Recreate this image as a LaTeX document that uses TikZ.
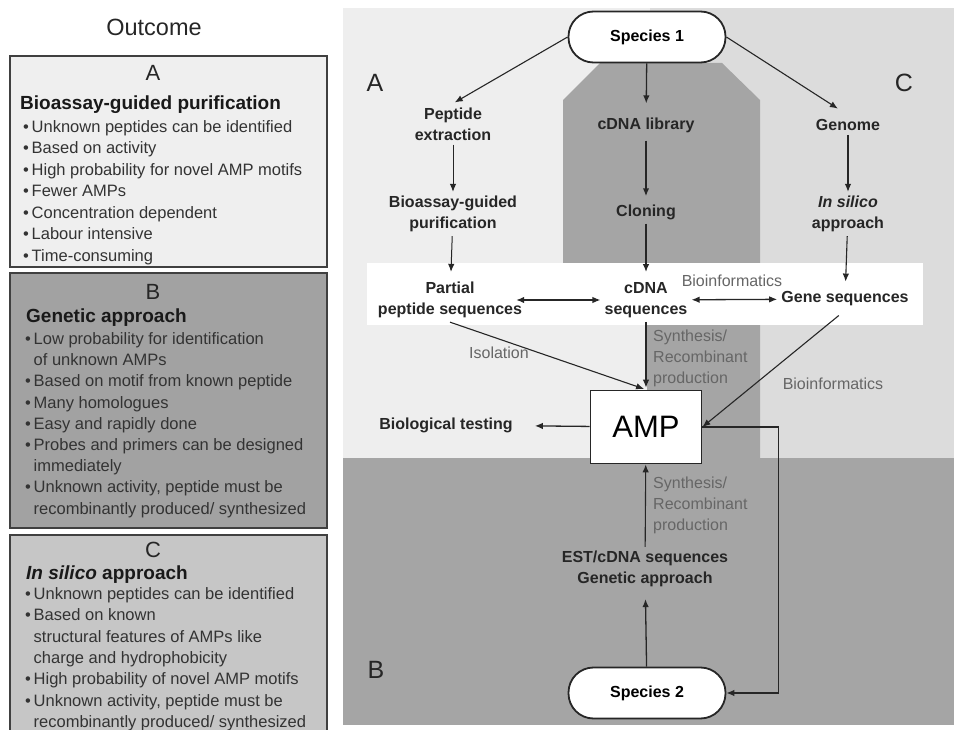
\documentclass[tikz,border=0pt]{standalone}
\usepackage{fontspec}
\setmainfont{Liberation Sans}
\usepackage{xcolor}
\usetikzlibrary{arrows.meta, positioning}

\definecolor{shadeA}{HTML}{EEEEEE}
\definecolor{shadeB}{HTML}{A5A5A5}
\definecolor{shadeC}{HTML}{DCDCDC}
\definecolor{boxA}{HTML}{EFEFEF}
\definecolor{boxB}{HTML}{A2A2A2}
\definecolor{boxC}{HTML}{C6C6C6}

\newcommand{\itm}{\textbullet\,}
\newcommand{\ind}{\hphantom{\textbullet\,}}

\tikzset{
    outbox/.style={draw=black!75, line width=1.2pt},
    letter/.style={font=\fontsize{22}{24}\selectfont, text=black!85, inner sep=0pt},
    heading/.style={font=\bfseries\fontsize{19}{22}\selectfont, text=black!90, anchor=base west, inner sep=0pt},
    item/.style={font=\fontsize{16.5}{19}\selectfont, text=black!80, anchor=base west, inner sep=0pt},
    lbl/.style={font=\bfseries\fontsize{16}{21}\selectfont, text=black!85, align=center, inner sep=4pt},
    note/.style={font=\fontsize{16}{21}\selectfont, text=black!60, align=left, inner sep=1pt},
    pill/.style={draw=black!85, fill=white, line width=1.8pt, rounded corners=25pt,
        minimum width=157pt, minimum height=51pt, font=\bfseries\fontsize{16}{19}\selectfont},
    flow/.style={->, line width=1.3pt, draw=black!85},
}

\begin{document}
\begin{tikzpicture}[x=1pt, y=-1pt, >={Latex[length=8pt,width=6.5pt]}]
    \useasboundingbox (0,0) rectangle (954,730);

    % backgrounds of the three routes
    \fill[shadeA] (343,8) rectangle (650,458);
    \fill[shadeC] (650,8) rectangle (954,458);
    \fill[shadeB] (563,300) -- (563,100) -- (600,63) -- (722,63) -- (760,100)
        -- (760,460) -- (647,460) -- (647,300) -- cycle;
    \fill[shadeB] (343,458) rectangle (954,725);
    \fill[white] (367,263) rectangle (923,325);

    % route letters
    \node[letter, font=\fontsize{25}{27}\selectfont] (rA) at (375,83) {A};
    \node[letter, font=\fontsize{25}{27}\selectfont] (rC) at (904,83) {C};
    \node[letter, font=\fontsize{25}{27}\selectfont] (rB) at (376,670) {B};

    % species and main steps
    \node[pill] (sp1) at (647,37) {Species 1};
    \node[lbl] (pep) at (453,124) {Peptide\\extraction};
    \node[lbl] (lib) at (646,125) {cDNA library};
    \node[lbl] (gen) at (848,125) {Genome};
    \node[lbl] (bio) at (453,214) {Bioassay-guided\\purification};
    \node[lbl] (clo) at (646,212) {Cloning};
    \node[lbl] (sil) at (848,214) {\textit{In silico}\\approach};
    \node[lbl] (par) at (450,300) {Partial\\peptide sequences};
    \node[lbl] (cds) at (646,300) {cDNA\\sequences};
    \node[lbl] (gsq) at (845,299) {Gene sequences};
    \node[draw=black!85, fill=white, line width=1.8pt, minimum width=111pt,
        minimum height=73pt, font=\fontsize{31}{33}\selectfont] (amp) at (646,427) {AMP};
    \node[lbl] (bt) at (446,425) {Biological testing};
    \node[lbl] (est) at (645,569) {EST/cDNA sequences\\Genetic approach};
    \node[pill] (sp2) at (647,693) {Species 2};

    % small labels on the connectors
    \node[note] (bi1) at (732,281) {Bioinformatics};
    \node[note] (iso) at (499,353) {Isolation};
    \node[note, anchor=west] (syn1) at (652,358) {Synthesis/\\Recombinant\\production};
    \node[note] (bi2) at (833,384) {Bioinformatics};
    \node[note, anchor=west] (syn2) at (652,505) {Synthesis/\\Recombinant\\production};

    % connectors
    \draw[flow, line width=1.1pt, shorten >=2pt] (sp1.west) -- (pep.north);
    \draw[flow, shorten >=10pt] (sp1) -- (lib);
    \draw[flow, line width=1.1pt, shorten >=12pt] (sp1.east) -- (gen.north);
    \draw[flow, line width=1pt] (pep) -- (bio);
    \draw[flow, line width=1.6pt, shorten <=4pt, shorten >=4pt] (lib) -- (clo);
    \draw[flow, line width=1.1pt] (gen) -- (sil);
    \draw[flow, line width=1pt, shorten >=6pt] (bio) -- (par);
    \draw[flow, line width=1.6pt, shorten >=6pt] (clo) -- (cds);
    \draw[flow, line width=1.1pt, shorten >=6pt] (sil) -- (gsq);
    \draw[flow, <->, shorten <=-10pt] (par) -- (cds);
    \draw[flow, <->] (cds) -- (gsq);
    \draw[flow, line width=1.1pt, shorten >=2pt] (par.south) -- (amp.north);
    \draw[flow, line width=1.1pt, shorten >=2pt] (cds) -- (amp);
    \draw[flow, line width=1.1pt, shorten <=8pt] (gsq.south) -- (amp.east);
    \draw[flow, shorten >=18pt] (amp) -- (bt);
    \draw[flow, line width=1.1pt] (amp.east) -- ++(76,0) |- (sp2.east);
    \draw[flow, shorten >=8pt] (sp2) -- (est);
    \draw[flow, line width=1.1pt] (est) -- (amp);

    % outcome column
    \node[font=\fontsize{23.5}{26}\selectfont, text=black!85] (outc) at (154,27) {Outcome};

    \draw[outbox, fill=boxA] (10,56) rectangle (327,267);
    \node[letter] (lA) at (153,73) {A};
    \node[heading] (hA) at (20,110) {Bioassay-guided purification};
    \foreach \t [count=\i] in {\itm Unknown peptides can be identified, \itm Based on activity,
        \itm High probability for novel AMP motifs, \itm Fewer AMPs,
        \itm Concentration dependent, \itm Labour intensive, \itm Time-consuming}
        \node[item] (a\i) at (23,132.5+21.5*\i-21.5) {\t};

    \draw[outbox, fill=boxB] (10,273) rectangle (327,528);
    \node[letter] (lB) at (153,292) {B};
    \node[heading] (hB) at (26,323) {Genetic approach};
    \foreach \t [count=\i] in {\itm Low probability for identification, \ind of unknown AMPs,
        \itm Based on motif from known peptide, \itm Many homologues,
        \itm Easy and rapidly done, \itm Probes and primers can be designed,
        \ind immediately, {\itm Unknown activity, peptide must be},
        \ind recombinantly produced/ synthesized}
        \node[item] (b\i) at (25,344.5+21.2*\i-21.2) {\t};

    \draw[outbox, fill=boxC] (10,535) rectangle (327,740);
    \node[letter] (lC) at (153,550) {C};
    \node[heading] (hC) at (26,579) {\textit{In silico} approach};
    \foreach \t [count=\i] in {\itm Unknown peptides can be identified, \itm Based on known,
        \ind structural features of AMPs like, \ind charge and hydrophobicity,
        \itm High probability of novel AMP motifs, {\itm Unknown activity, peptide must be},
        \ind recombinantly produced/ synthesized}
        \node[item] (c\i) at (25,599.5+21.3*\i-21.3) {\t};
\end{tikzpicture}
\end{document}
